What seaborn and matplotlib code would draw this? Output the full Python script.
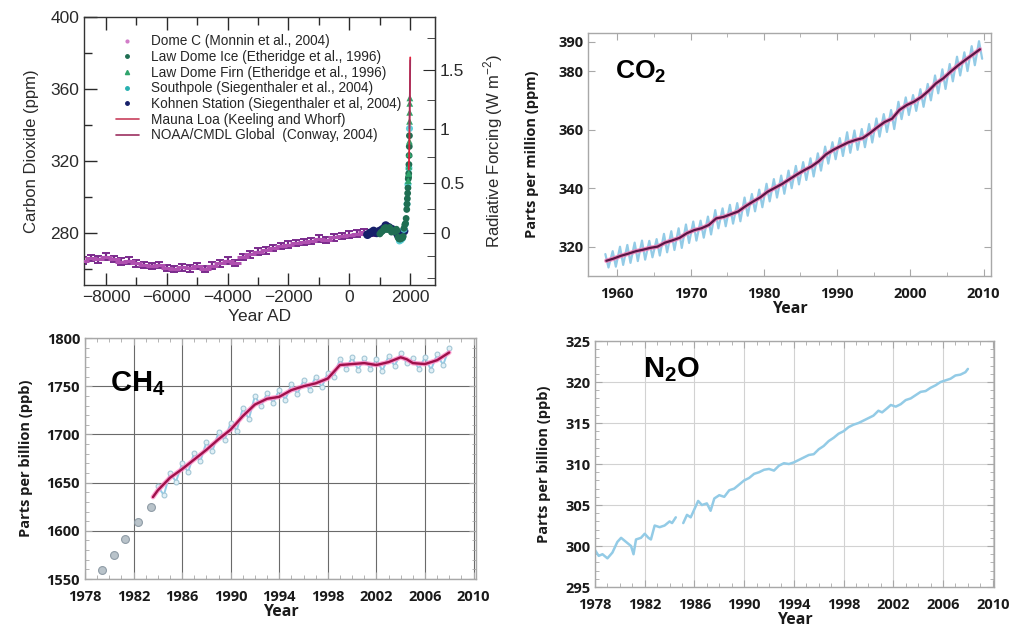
import matplotlib
matplotlib.use("Agg")
import matplotlib.pyplot as plt
from matplotlib.lines import Line2D
from matplotlib.ticker import MultipleLocator
import numpy as np
import pandas as pd
import seaborn as sns

# ---------------------------------------------------------------------------
# Data
# ---------------------------------------------------------------------------

# Panel 1: Holocene ice-core CO2 (ppm)
DOMEC_T = [-8750, -8500, -8250, -8000, -7750, -7500, -7250, -7000, -6750, -6500,
           -6250, -6000, -5750, -5500, -5250, -5000, -4750, -4500, -4250, -4000,
           -3750, -3500, -3250, -3000, -2750, -2500, -2250, -2000, -1750, -1500,
           -1250, -1000, -750, -500, -250, 0, 250, 500, 750]
DOMEC_V = [264.5, 266.0, 265.2, 266.8, 265.5, 264.0, 264.6, 263.0, 262.0, 261.5,
           262.2, 260.5, 260.0, 260.8, 260.2, 261.5, 259.8, 261.8, 263.0, 264.5,
           263.2, 266.5, 268.0, 269.5, 270.2, 271.5, 272.8, 273.5, 274.2, 275.0,
           275.5, 276.8, 276.0, 277.5, 278.2, 279.0, 279.6, 280.5, 279.8]
DOMEC_ERR = 1.8

LAWICE_T = [1006, 1046, 1096, 1146, 1196, 1246, 1327, 1387, 1428, 1476, 1525, 1550,
            1570, 1600, 1627, 1660, 1700, 1720, 1750, 1775, 1800, 1826, 1850, 1870,
            1890, 1900, 1910, 1920, 1930, 1940, 1950, 1955, 1962, 1968, 1973, 1978]
LAWICE_V = [279.4, 280.3, 281.0, 282.5, 283.0, 281.8, 283.0, 280.4, 281.0, 280.5,
            281.7, 282.0, 281.2, 277.5, 276.8, 276.5, 276.7, 277.5, 277.2, 278.0,
            282.5, 284.5, 285.2, 288.0, 293.0, 296.0, 299.0, 302.0, 305.0, 310.0,
            311.0, 313.0, 318.0, 323.0, 328.0, 334.0]

LAWFIRN_T = [1939, 1955, 1962, 1969, 1976, 1983, 1987, 1990, 1993]
LAWFIRN_V = [309, 313, 317, 324, 331, 342, 347, 352, 355]

SPOLE_T = [1650, 1700, 1750, 1800, 1850, 1900, 1930, 1960, 1980]
SPOLE_V = [275.5, 276.0, 277.0, 282.0, 285.0, 296.0, 307.0, 316.0, 338.0]

KOHNEN_T = [600, 700, 800, 900, 1000, 1100, 1200, 1300, 1400, 1500, 1600, 1700, 1800]
KOHNEN_V = [279, 280, 281, 280, 281, 282, 284, 283, 282, 281, 279, 278, 281]

NOAA_T = [1980, 1985, 1990, 1995, 2000, 2004]
NOAA_V = [338.0, 345.0, 353.5, 359.5, 368.0, 376.0]

# Panel 2: Mauna Loa CO2 (ppm)
CO2_YEARS = list(range(1958, 2010))
CO2_MEAN = [315.2, 315.97, 316.91, 317.64, 318.45, 318.99, 319.62, 320.04, 321.38,
            322.16, 323.04, 324.62, 325.68, 326.32, 327.45, 329.68, 330.18, 331.11,
            332.04, 333.83, 335.40, 336.84, 338.75, 340.11, 341.45, 343.05, 344.65,
            346.12, 347.42, 349.19, 351.57, 353.12, 354.39, 355.61, 356.45, 357.10,
            358.83, 360.82, 362.61, 363.73, 366.70, 368.38, 369.55, 371.14, 373.28,
            375.80, 377.52, 379.80, 381.90, 383.79, 385.60, 387.43]
CO2_PEAK = [317.5, 318.5, 320.0, 320.6, 321.4, 322.1, 322.0, 322.6, 324.4, 325.3,
            326.3, 327.6, 328.6, 328.9, 330.3, 332.5, 333.1, 334.3, 334.9, 336.8,
            338.0, 339.5, 341.5, 343.1, 344.3, 346.0, 347.6, 348.9, 350.2, 351.9,
            354.2, 355.7, 357.1, 359.1, 359.7, 360.2, 361.9, 363.8, 365.3, 366.7,
            369.5, 371.0, 371.8, 373.8, 375.6, 378.5, 380.6, 382.4, 384.9, 386.4,
            388.5, 390.2]
CO2_TROUGH = [312.9, 313.2, 313.8, 314.5, 315.1, 315.6, 316.4, 317.0, 318.1, 318.9,
              319.6, 321.3, 322.1, 323.1, 324.2, 326.3, 327.0, 327.9, 328.7, 330.6,
              332.1, 333.5, 335.5, 336.8, 338.1, 340.0, 341.3, 342.8, 344.0, 346.0,
              348.4, 349.9, 351.0, 352.1, 353.1, 354.0, 355.6, 357.6, 359.2, 360.2,
              363.6, 365.0, 366.4, 367.8, 370.0, 372.4, 373.9, 376.5, 378.5, 380.0,
              382.0, 384.2]

# Panel 3: CH4 (ppb)
CH4_EARLY_T = [1979.4, 1980.4, 1981.3, 1982.4, 1983.4]
CH4_EARLY_V = [1559, 1575, 1592, 1609, 1625]
CH4_TREND_T = [1983.6, 1984, 1985, 1986, 1987, 1988, 1989, 1990, 1991, 1992, 1993,
               1994, 1995, 1996, 1997, 1998, 1998.5, 1999, 2000, 2001, 2002, 2003,
               2004, 2004.5, 2005, 2006, 2007, 2008]
CH4_TREND_V = [1635, 1642, 1655, 1664, 1674, 1684, 1695, 1705, 1719, 1731, 1737,
               1739, 1746, 1750, 1753, 1758, 1765, 1772, 1773, 1774, 1772, 1775,
               1780, 1778, 1774, 1773, 1777, 1785]
CH4_MONTHLY_T = [1984.0, 1984.5, 1985.0, 1985.5, 1986.0, 1986.5, 1987.0, 1987.5,
                 1988.0, 1988.5, 1989.0, 1989.5, 1990.0, 1990.5, 1991.0, 1991.5,
                 1992.0, 1992.5, 1993.0, 1993.5, 1994.0, 1994.5, 1995.0, 1995.5,
                 1996.0, 1996.5, 1997.0, 1997.5, 1998.0, 1998.5, 1999.0, 1999.5,
                 2000.0, 2000.5, 2001.0, 2001.5, 2002.0, 2002.5, 2003.0, 2003.5,
                 2004.0, 2004.5, 2005.0, 2005.5, 2006.0, 2006.5, 2007.0, 2007.5,
                 2008.0]
CH4_MONTHLY_V = [1646, 1637, 1660, 1651, 1670, 1661, 1681, 1672, 1692, 1683, 1702,
                 1694, 1712, 1704, 1727, 1716, 1740, 1729, 1743, 1733, 1746, 1736,
                 1752, 1742, 1756, 1746, 1760, 1749, 1764, 1760, 1778, 1768, 1780,
                 1767, 1779, 1768, 1778, 1766, 1781, 1771, 1784, 1774, 1779, 1768,
                 1780, 1767, 1783, 1772, 1790]

# Panel 4: N2O (ppb); gap between the two records
N2O_T = [1978.0, 1978.3, 1978.6, 1979.0, 1979.4, 1979.8, 1980.1, 1980.5, 1980.9,
         1981.1, 1981.3, 1981.7, 1982.0, 1982.3, 1982.5, 1982.8, 1983.2, 1983.6,
         1984.0, 1984.2, 1984.5,
         1985.1, 1985.4, 1985.7, 1986.0, 1986.3, 1986.6, 1987.0, 1987.3, 1987.6,
         1988.0, 1988.4, 1988.8, 1989.2, 1989.6, 1990.0, 1990.4, 1990.8, 1991.2,
         1991.6, 1992.0, 1992.4, 1992.8, 1993.2, 1993.6, 1994.0, 1994.4, 1994.8,
         1995.2, 1995.6, 1996.0, 1996.4, 1996.8, 1997.2, 1997.6, 1998.0, 1998.4,
         1998.8, 1999.2, 1999.6, 2000.0, 2000.4, 2000.8, 2001.1, 2001.5, 2001.8,
         2002.2, 2002.6, 2003.0, 2003.4, 2003.8, 2004.2, 2004.6, 2005.0, 2005.4,
         2005.8, 2006.2, 2006.6, 2007.0, 2007.4, 2007.8, 2008.0]
N2O_V = [299.5, 298.8, 299.0, 298.5, 299.2, 300.5, 301.0, 300.5, 300.0,
         299.0, 300.8, 301.0, 301.5, 301.0, 300.8, 302.5, 302.3, 302.5,
         303.0, 302.8, 303.5,
         302.8, 303.8, 303.5, 304.5, 305.5, 305.0, 305.2, 304.3, 305.8,
         306.2, 306.0, 306.8, 307.0, 307.5, 308.0, 308.3, 308.8, 309.0,
         309.3, 309.4, 309.2, 309.8, 310.1, 310.0, 310.2, 310.5, 310.8,
         311.1, 311.2, 311.8, 312.2, 312.8, 313.2, 313.7, 314.0, 314.5,
         314.8, 315.0, 315.3, 315.6, 315.9, 316.5, 316.3, 316.8, 317.2,
         317.0, 317.3, 317.8, 318.0, 318.4, 318.8, 318.9, 319.3, 319.6,
         320.0, 320.2, 320.4, 320.8, 320.9, 321.2, 321.6]

# ---------------------------------------------------------------------------
# Style
# ---------------------------------------------------------------------------
sns.set_style("ticks")
plt.rcParams["font.family"] = ["Open Sans", "DejaVu Sans"]
plt.rcParams["mathtext.fontset"] = "custom"
plt.rcParams["mathtext.rm"] = "Liberation Sans"
plt.rcParams["mathtext.bf"] = "Liberation Sans:bold"

OLD_FONT = ["Liberation Sans Narrow", "Liberation Sans"]
LIGHT_BLUE = "#93cbe6"
FRAME = "#a8a8a8"
INK = "#1a1a1a"

fig = plt.figure(figsize=(10.15, 6.36), dpi=100)
fig.patch.set_facecolor("white")

# ---------------------------------------------------------------------------
# Panel 1: ice core record
# ---------------------------------------------------------------------------
ax1 = fig.add_axes([0.0828, 0.5519, 0.3458, 0.4214])
ax1.errorbar(DOMEC_T, DOMEC_V, yerr=DOMEC_ERR, fmt="none", ecolor="#7a2a8c",
             elinewidth=1.6, capsize=3.0, capthick=1.4, zorder=2)
sns.scatterplot(x=DOMEC_T, y=DOMEC_V, ax=ax1, color="#b050b0", s=70,
                marker="_", linewidth=2.2, zorder=3)
sns.scatterplot(x=KOHNEN_T, y=KOHNEN_V, ax=ax1, color="#16206a", s=40,
                edgecolor="none", zorder=3)
sns.scatterplot(x=SPOLE_T, y=SPOLE_V, ax=ax1, color="#5ccfd8", s=26,
                edgecolor="none", zorder=4)
sns.scatterplot(x=LAWICE_T, y=LAWICE_V, ax=ax1, color="#1f6e52", s=24,
                edgecolor="none", zorder=4)
sns.scatterplot(x=LAWFIRN_T, y=LAWFIRN_V, ax=ax1, color="#2fa46c", s=24,
                marker="^", edgecolor="none", zorder=4)
sns.lineplot(x=CO2_YEARS[:47], y=CO2_MEAN[:47], ax=ax1, color="#e0203c",
             lw=1.3, estimator=None, zorder=5)
sns.lineplot(x=NOAA_T, y=NOAA_V, ax=ax1, color="#9c3060", lw=1.0,
             estimator=None, zorder=5)

ax1.set_xlim(-8720, 2820)
ax1.set_ylim(251, 400)
ax1.xaxis.set_major_locator(MultipleLocator(2000))
ax1.xaxis.set_minor_locator(MultipleLocator(1000))
ax1.yaxis.set_major_locator(MultipleLocator(40))
ax1.yaxis.set_minor_locator(MultipleLocator(20))
ax1.tick_params(which="both", direction="in", top=True, right=False,
                labelsize=12.5, colors="#2a2a2a", width=1.0)
ax1.tick_params(which="major", length=9)
ax1.tick_params(which="minor", length=6)
for lab in ax1.get_xticklabels() + ax1.get_yticklabels():
    lab.set_family(OLD_FONT)
for sp in ax1.spines.values():
    sp.set_color("#333333")
    sp.set_linewidth(1.0)
ax1.set_xlabel("Year AD", fontsize=12.5, family=OLD_FONT, color="#2a2a2a", labelpad=3)
ax1.set_ylabel("Carbon Dioxide (ppm)", fontsize=12, family=OLD_FONT,
               color="#2a2a2a", labelpad=8)


def _forcing(c):
    return 5.35 * np.log(np.clip(c, 1e-6, None) / 280.0)


def _conc(f):
    return 280.0 * np.exp(np.asarray(f) / 5.35)


sec = ax1.secondary_yaxis("right", functions=(_forcing, _conc))
sec.set_yticks([0, 0.5, 1, 1.5])
sec.set_yticklabels(["0", "0.5", "1", "1.5"])
sec.yaxis.set_minor_locator(MultipleLocator(0.25))
sec.tick_params(which="both", direction="in", labelsize=12.5, colors="#2a2a2a")
sec.tick_params(which="major", length=9)
sec.tick_params(which="minor", length=6)
for lab in sec.get_yticklabels():
    lab.set_family(OLD_FONT)
sec.set_ylabel("Radiative Forcing (W m$^{-2}$)", fontsize=12, family=OLD_FONT,
               color="#2a2a2a", labelpad=12)

legend_handles = [
    Line2D([], [], ls="none", marker=".", ms=4, color="#d27cc8"),
    Line2D([], [], ls="none", marker=".", ms=5, color="#1f6e52"),
    Line2D([], [], ls="none", marker="^", ms=3, color="#2fa46c"),
    Line2D([], [], ls="none", marker=".", ms=5, color="#27b0b0"),
    Line2D([], [], ls="none", marker=".", ms=5, color="#16206a"),
    Line2D([], [], color="#c8405c", lw=1.2),
    Line2D([], [], color="#9c3060", lw=1.2),
]
legend_labels = [
    "Dome C (Monnin et al., 2004)",
    "Law Dome Ice (Etheridge et al., 1996)",
    "Law Dome Firn (Etheridge et al., 1996)",
    "Southpole (Siegenthaler et al., 2004)",
    "Kohnen Station (Siegenthaler et al, 2004)",
    "Mauna Loa (Keeling and Whorf)",
    "NOAA/CMDL Global  (Conway, 2004)",
]
ax1.legend(legend_handles, legend_labels, loc="upper left",
           bbox_to_anchor=(0.075, 0.955), frameon=False, handlelength=1.7,
           handletextpad=0.9, labelspacing=0.12, borderaxespad=0,
           prop={"family": OLD_FONT, "size": 9.8})


def _style_modern(ax):
    for sp in ax.spines.values():
        sp.set_color(FRAME)
        sp.set_linewidth(1.0)
    ax.tick_params(which="both", direction="in", top=True, right=True,
                   colors=FRAME, labelcolor=INK, labelsize=10.5)
    ax.tick_params(axis="x", which="major", pad=8)
    ax.tick_params(which="major", length=5)
    ax.tick_params(which="minor", length=3)
    for lab in ax.get_xticklabels() + ax.get_yticklabels():
        lab.set_fontweight("bold")


# ---------------------------------------------------------------------------
# Panel 2: Mauna Loa CO2
# ---------------------------------------------------------------------------
ax2 = fig.add_axes([0.5793, 0.5660, 0.3970, 0.3821])
zig = pd.DataFrame({
    "t": [y + 0.37 for y in CO2_YEARS] + [y + 0.8 for y in CO2_YEARS],
    "v": CO2_PEAK + CO2_TROUGH,
}).sort_values("t")
trend = pd.DataFrame({"t": [y + 0.5 for y in CO2_YEARS], "v": CO2_MEAN})
sns.lineplot(data=zig, x="t", y="v", ax=ax2, color=LIGHT_BLUE, lw=1.6,
             estimator=None, sort=False)
sns.lineplot(data=trend, x="t", y="v", ax=ax2, color="#f07ab4", lw=3.2,
             estimator=None, alpha=0.8)
sns.lineplot(data=trend, x="t", y="v", ax=ax2, color="#5c1444", lw=1.6,
             estimator=None)
ax2.set_xlim(1956, 2011)
ax2.set_ylim(310, 393)
ax2.set_xticks([1960, 1970, 1980, 1990, 2000, 2010])
ax2.xaxis.set_minor_locator(MultipleLocator(5))
ax2.set_yticks([320, 340, 360, 380, 390])
_style_modern(ax2)
ax2.set_xlabel("Year", fontsize=11.5, fontweight="bold", color=INK, labelpad=0)
ax2.set_ylabel("Parts per million (ppm)", fontsize=10.5, fontweight="bold",
               color=INK, labelpad=14)
ax2.text(0.067, 0.84, r"$\mathbf{CO}_\mathbf{2}$", transform=ax2.transAxes,
         fontsize=19, ha="left", va="center", color="black")

# ---------------------------------------------------------------------------
# Panel 3: CH4
# ---------------------------------------------------------------------------
ax3 = fig.add_axes([0.0837, 0.0896, 0.3852, 0.3789])
ax3.grid(True, which="major", color="#6a6a6a", lw=0.8)
sns.scatterplot(x=CH4_EARLY_T, y=CH4_EARLY_V, ax=ax3, color="#b9c3ca",
                edgecolor="#8f9ca6", s=32, linewidth=0.8, zorder=3)
sns.lineplot(x=CH4_MONTHLY_T, y=CH4_MONTHLY_V, ax=ax3, color=LIGHT_BLUE, lw=1.4,
             marker="o", markersize=3.5, markeredgecolor="#a0c4d4",
             markerfacecolor="#e0f0f6", estimator=None, zorder=3)
sns.lineplot(x=CH4_TREND_T, y=CH4_TREND_V, ax=ax3, color="#ff8cc8", lw=3.4,
             estimator=None, alpha=0.8, zorder=4)
sns.lineplot(x=CH4_TREND_T, y=CH4_TREND_V, ax=ax3, color="#a0104a", lw=1.7,
             estimator=None, zorder=5)
ax3.set_xlim(1978, 2010.2)
ax3.set_ylim(1550, 1800)
ax3.set_xticks(list(range(1978, 2011, 4)))
ax3.xaxis.set_minor_locator(MultipleLocator(1))
ax3.yaxis.set_major_locator(MultipleLocator(50))
ax3.yaxis.set_minor_locator(MultipleLocator(10))
_style_modern(ax3)
ax3.set_xlabel("Year", fontsize=11.5, fontweight="bold", color=INK, labelpad=0)
ax3.set_ylabel("Parts per billion (ppb)", fontsize=10.5, fontweight="bold",
               color=INK, labelpad=10)
ax3.text(0.064, 0.81, r"$\mathbf{CH}_\mathbf{4}$", transform=ax3.transAxes,
         fontsize=21, ha="left", va="center", color="black")

# ---------------------------------------------------------------------------
# Panel 4: N2O
# ---------------------------------------------------------------------------
ax4 = fig.add_axes([0.5862, 0.0770, 0.3931, 0.3868])
ax4.grid(True, which="major", color="#d2d2d2", lw=0.8)
n2o = pd.DataFrame({"t": N2O_T, "v": N2O_V})
n2o["seg"] = (n2o["t"] > 1984.8).astype(int)
sns.lineplot(data=n2o, x="t", y="v", units="seg", ax=ax4, color=LIGHT_BLUE,
             lw=1.8, estimator=None)
ax4.set_xlim(1978, 2010.1)
ax4.set_ylim(295, 325)
ax4.set_xticks(list(range(1978, 2011, 4)))
ax4.xaxis.set_minor_locator(MultipleLocator(1))
ax4.yaxis.set_major_locator(MultipleLocator(5))
ax4.yaxis.set_minor_locator(MultipleLocator(1))
_style_modern(ax4)
ax4.set_xlabel("Year", fontsize=11.5, fontweight="bold", color=INK, labelpad=0)
ax4.set_ylabel("Parts per billion (ppb)", fontsize=10.5, fontweight="bold",
               color=INK, labelpad=10)
ax4.text(0.12, 0.882, r"$\mathbf{N}_\mathbf{2}\mathbf{O}$", transform=ax4.transAxes,
         fontsize=21, ha="left", va="center", color="black")

fig.savefig("out.png", dpi=100, facecolor="white")
